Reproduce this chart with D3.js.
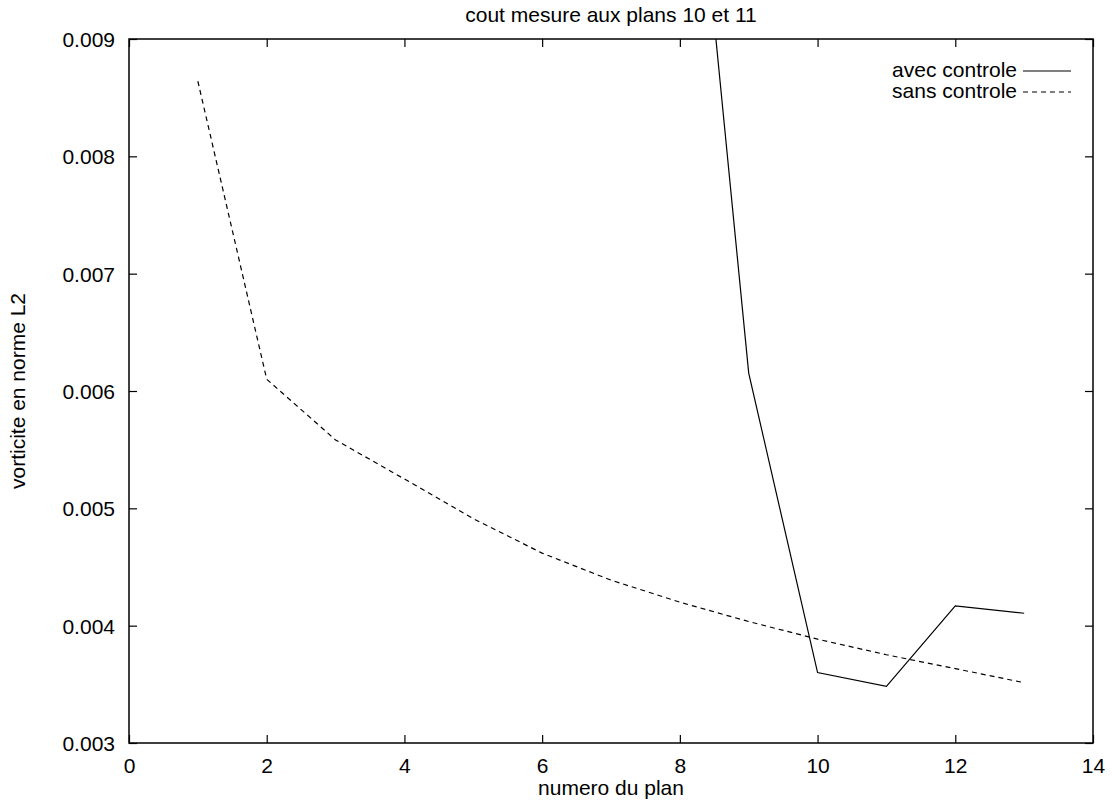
<!DOCTYPE html>
<html><head><meta charset="utf-8">
<script src="https://cdn.jsdelivr.net/npm/d3@7"></script>
<style>body{margin:0;background:#fff}text{font-family:"Liberation Sans",Arial,sans-serif;font-size:21px;fill:#000}</style>
</head><body><svg id="c" width="1112" height="806"></svg>
<script>
const avecX = [8, 9, 10, 11, 12, 13];
const avecY = [0.01213, 0.006152, 0.00360, 0.003483, 0.004168, 0.004106];
const sansX = [1, 2, 3, 4, 5, 6, 7, 8, 9, 10, 11, 12, 13];
const sansY = [0.00864, 0.006100, 0.005583, 0.005250, 0.004912, 0.004618, 0.004388, 0.004200, 0.004035, 0.003885, 0.003752, 0.003634, 0.003514];
const xTicks = [0, 2, 4, 6, 8, 10, 12, 14];
const yTicks = [0.003, 0.004, 0.005, 0.006, 0.007, 0.008, 0.009];
const seriesNames = ["avec controle", "sans controle"];

const L = 129, R = 1093, T = 39, B = 743;
const FS = 21;
const x = d3.scaleLinear().domain([0, 14]).range([L, R]);
const y = d3.scaleLinear().domain([0.003, 0.009]).range([B, T]);
const svg = d3.select("#c");

svg.append("defs").append("clipPath").attr("id", "clip")
  .append("rect").attr("x", L).attr("y", T).attr("width", R - L).attr("height", B - T);

const tl = 8;
const gb = svg.append("g").attr("transform", `translate(0,${B})`)
  .call(d3.axisBottom(x).tickValues(xTicks).tickFormat(d3.format("d")).tickSize(-tl));
const gt = svg.append("g").attr("transform", `translate(0,${T})`)
  .call(d3.axisTop(x).tickValues(xTicks).tickFormat("").tickSize(-tl));
const gl = svg.append("g").attr("transform", `translate(${L},0)`)
  .call(d3.axisLeft(y).tickValues(yTicks).tickFormat(d3.format(".3f")).tickSize(-tl));
const gr = svg.append("g").attr("transform", `translate(${R},0)`)
  .call(d3.axisRight(y).tickValues(yTicks).tickFormat("").tickSize(-tl));
[gb, gt, gl, gr].forEach(g => {
  g.select(".domain").remove();
  g.selectAll(".tick line").attr("stroke", "#000").attr("stroke-width", 1.2);
  g.selectAll(".tick text").attr("font-size", FS).attr("font-family", '"Liberation Sans",Arial,sans-serif').attr("fill", "#000");
});
gl.selectAll(".tick text").attr("x", -14).attr("dy", "0.35em");
gb.selectAll(".tick text").attr("y", 30).attr("dy", 0);

svg.append("rect").attr("x", L).attr("y", T).attr("width", R - L).attr("height", B - T)
  .attr("fill", "none").attr("stroke", "#000").attr("stroke-width", 1.5);

const line = d3.line().x(d => x(d[0])).y(d => y(d[1]));
const pg = svg.append("g").attr("clip-path", "url(#clip)");
pg.append("path").datum(avecX.map((v, i) => [v, avecY[i]])).attr("d", line)
  .attr("fill", "none").attr("stroke", "#000").attr("stroke-width", 1.2);
pg.append("path").datum(sansX.map((v, i) => [v, sansY[i]])).attr("d", line)
  .attr("fill", "none").attr("stroke", "#000").attr("stroke-width", 1.2).attr("stroke-dasharray", "5,4");

const lg = svg.append("g");
seriesNames.forEach((n, i) => {
  const yy = 71 + i * 21;
  lg.append("text").attr("x", 1017).attr("y", yy).attr("dy", "0.3em").attr("text-anchor", "end").text(n);
  lg.append("line").attr("x1", 1023).attr("x2", 1071).attr("y1", yy).attr("y2", yy)
    .attr("stroke", "#000").attr("stroke-width", 1.2).attr("stroke-dasharray", i ? "5,4" : null);
});

svg.append("text").attr("x", (L + R) / 2).attr("y", 22).attr("text-anchor", "middle").text("cout mesure aux plans 10 et 11");
svg.append("text").attr("x", (L + R) / 2).attr("y", 795).attr("text-anchor", "middle").text("numero du plan");
svg.append("text").attr("transform", `translate(25,${(T + B) / 2}) rotate(-90)`).attr("text-anchor", "middle").text("vorticite en norme L2");
</script></body></html>
